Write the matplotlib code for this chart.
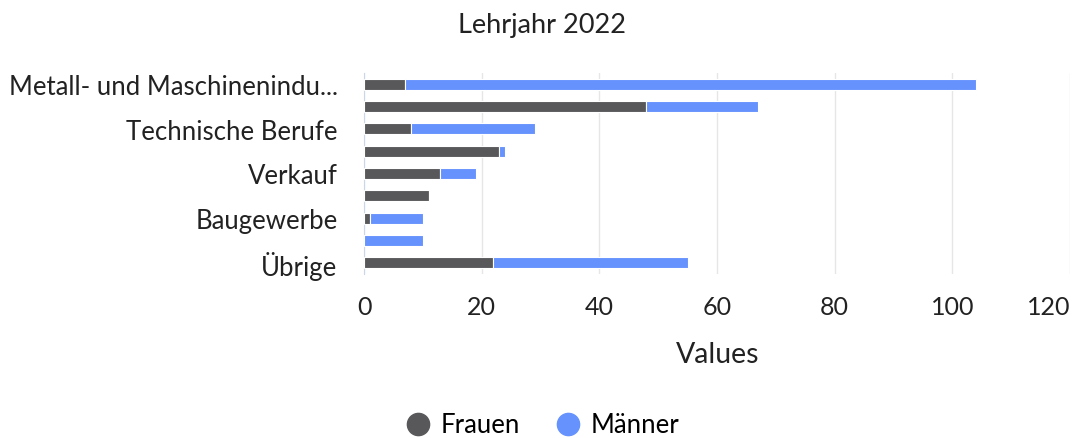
import matplotlib
matplotlib.use("Agg")
import numpy as np
from matplotlib import pyplot as plt
from matplotlib.lines import Line2D

plt.rcParams['font.family'] = ['Lato', 'DejaVu Sans']

# data (top to bottom)
tick_labels = ["Metall- und Maschinenindu...", "", "Technische Berufe", "",
               "Verkauf", "", "Baugewerbe", "", "Übrige"]
frauen = [7, 48, 8, 23, 13, 11, 1, 0, 22]
maenner = [97, 19, 21, 1, 6, 0, 9, 10, 33]
x_ticks = [0, 20, 40, 60, 80, 100, 120]

col_f = "#58585a"
col_m = "#6592fd"
txt = "#222222"

W, H = 1079, 439
fig = plt.figure(figsize=(W/100, H/100), dpi=100)
ax = fig.add_axes([364/W, 1-275/H, (1070-364)/W, (275-74)/H])

y = np.arange(len(tick_labels))
ax.barh(y, frauen, height=0.5, color=col_f, edgecolor="white", linewidth=0.8, zorder=3)
ax.barh(y, maenner, left=frauen, height=0.5, color=col_m, edgecolor="white", linewidth=0.8, zorder=3)

ax.set_ylim(len(tick_labels) - 0.5, -0.5)
ax.set_xlim(0, 120)
ax.set_yticks(y)
ax.set_yticklabels(tick_labels, fontsize=18.5, color=txt)
ax.set_xticks(x_ticks)
ax.set_xticklabels([str(t) for t in x_ticks], fontsize=18, color=txt)
ax.tick_params(axis="both", length=0)
ax.tick_params(axis="x", pad=15)
ax.tick_params(axis="y", pad=19)
xl = ax.get_xticklabels()
xl[-1].set_horizontalalignment("right")

ax.grid(axis="x", color="#e6e6e6", linewidth=1, zorder=0)
for s in ["top", "right", "bottom"]:
    ax.spines[s].set_visible(False)
ax.spines["left"].set_color("#ccd6eb")

fig.text(718/W, 1-355/H, "Values", ha="center", va="center", fontsize=20.5, color=txt)
fig.text(542/W, 1-25/H, "Lehrjahr 2022", ha="center", va="center", fontsize=19.5, color=txt)

handles = [Line2D([], [], marker="o", linestyle="", markersize=16, color=col_f),
           Line2D([], [], marker="o", linestyle="", markersize=16, color=col_m)]
fig.legend(handles, ["Frauen", "Männer"], loc="center", bbox_to_anchor=(541/W, 1-426/H),
           ncol=2, frameon=False, fontsize=18.5, handletextpad=0.3, columnspacing=1.25,
           borderpad=0, handlelength=1.2)

fig.savefig("out.png", dpi=100)
